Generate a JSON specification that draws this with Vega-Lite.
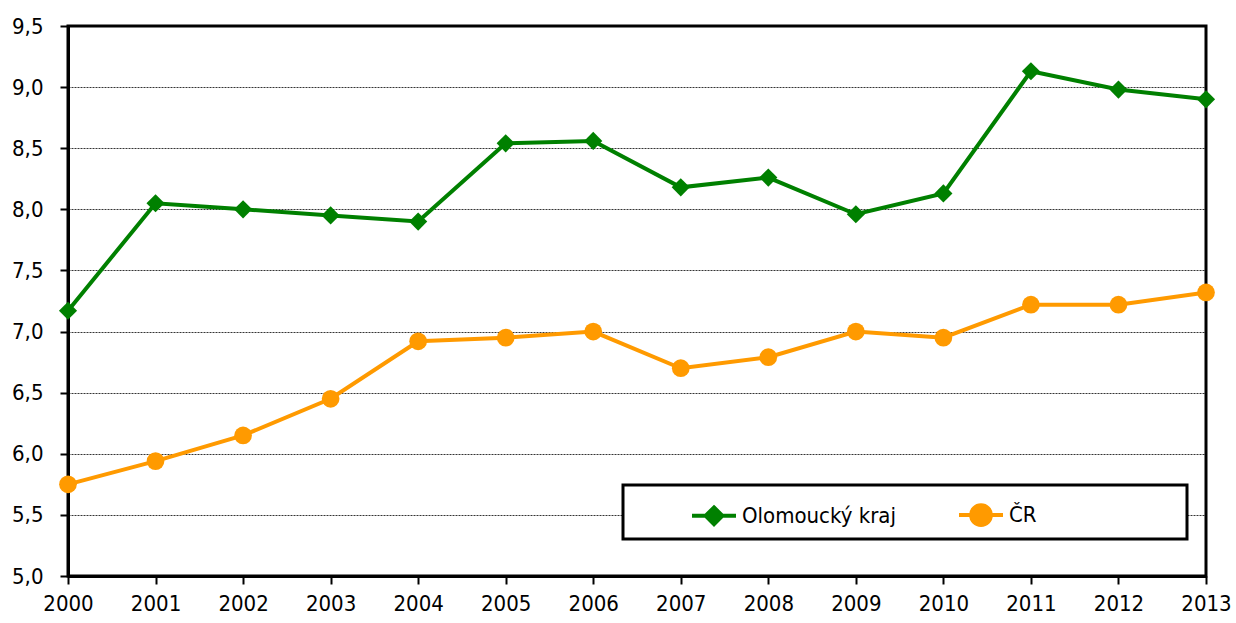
{
  "$schema": "https://vega.github.io/schema/vega-lite/v6.json",
  "width": 1138,
  "height": 550,
  "autosize": {"type": "none"},
  "padding": {"left": 68, "top": 26, "right": 30, "bottom": 47},
  "background": "white",
  "config": {
    "font": "DejaVu Sans Condensed, sans-serif",
    "view": {"stroke": "#000", "strokeWidth": 3},
    "axis": {
      "labelFont": "DejaVu Sans Condensed, sans-serif",
      "labelFontSize": 22,
      "labelColor": "#000",
      "domainColor": "#000",
      "domainWidth": 3,
      "tickColor": "#000",
      "tickWidth": 2,
      "tickSize": 8,
      "title": null
    }
  },
  "data": {
    "values": [
      {"year": 2000, "series": "Olomoucký kraj", "value": 7.17},
      {"year": 2001, "series": "Olomoucký kraj", "value": 8.05},
      {"year": 2002, "series": "Olomoucký kraj", "value": 8.0},
      {"year": 2003, "series": "Olomoucký kraj", "value": 7.95},
      {"year": 2004, "series": "Olomoucký kraj", "value": 7.9},
      {"year": 2005, "series": "Olomoucký kraj", "value": 8.54},
      {"year": 2006, "series": "Olomoucký kraj", "value": 8.56},
      {"year": 2007, "series": "Olomoucký kraj", "value": 8.18},
      {"year": 2008, "series": "Olomoucký kraj", "value": 8.26},
      {"year": 2009, "series": "Olomoucký kraj", "value": 7.96},
      {"year": 2010, "series": "Olomoucký kraj", "value": 8.13},
      {"year": 2011, "series": "Olomoucký kraj", "value": 9.13},
      {"year": 2012, "series": "Olomoucký kraj", "value": 8.98},
      {"year": 2013, "series": "Olomoucký kraj", "value": 8.9},
      {"year": 2000, "series": "ČR", "value": 5.75},
      {"year": 2001, "series": "ČR", "value": 5.94},
      {"year": 2002, "series": "ČR", "value": 6.15},
      {"year": 2003, "series": "ČR", "value": 6.45},
      {"year": 2004, "series": "ČR", "value": 6.92},
      {"year": 2005, "series": "ČR", "value": 6.95},
      {"year": 2006, "series": "ČR", "value": 7.0},
      {"year": 2007, "series": "ČR", "value": 6.7},
      {"year": 2008, "series": "ČR", "value": 6.79},
      {"year": 2009, "series": "ČR", "value": 7.0},
      {"year": 2010, "series": "ČR", "value": 6.95},
      {"year": 2011, "series": "ČR", "value": 7.22},
      {"year": 2012, "series": "ČR", "value": 7.22},
      {"year": 2013, "series": "ČR", "value": 7.32}
    ]
  },
  "encoding": {
    "x": {
      "field": "year",
      "type": "quantitative",
      "scale": {"domain": [2000, 2013], "nice": false, "zero": false},
      "axis": {
        "values": [2000, 2001, 2002, 2003, 2004, 2005, 2006, 2007, 2008, 2009, 2010, 2011, 2012, 2013],
        "format": "d",
        "grid": false,
        "labelPadding": 9,
        "labelFlush": false,
        "labelOverlap": false
      }
    },
    "y": {
      "field": "value",
      "type": "quantitative",
      "scale": {"domain": [5, 9.5], "nice": false, "zero": false},
      "axis": {
        "values": [5, 5.5, 6, 6.5, 7, 7.5, 8, 8.5, 9, 9.5],
        "labelExpr": "replace(format(datum.value, '.1f'), '.', ',')",
        "grid": true,
        "gridColor": "#000",
        "gridWidth": 0.8,
        "gridDash": [2, 1],
        "labelPadding": 17
      }
    }
  },
  "layer": [
    {
      "mark": {"type": "line", "strokeWidth": 4},
      "encoding": {
        "color": {
          "field": "series",
          "type": "nominal",
          "sort": ["Olomoucký kraj", "ČR"],
          "scale": {"domain": ["Olomoucký kraj", "ČR"], "range": ["#008000", "#FF9A00"]},
          "legend": {
            "title": " ",
            "titleOrient": "right",
            "titlePadding": 144,
            "orient": "none",
            "direction": "horizontal",
            "legendX": 555,
            "legendY": 459,
            "strokeColor": "#000",
            "fillColor": "#fff",
            "padding": 6,
            "symbolOffset": 61,
            "columnPadding": -15,
            "labelOffset": 4,
            "labelFontSize": 22,
            "labelColor": "#000",
            "labelFont": "DejaVu Sans Condensed, sans-serif",
            "symbolSize": 1936,
            "symbolStrokeWidth": 4,
            "encode": {
              "legend": {"update": {"strokeWidth": {"value": 3}}},
              "symbols": {
                "update": {
                  "shape": {"signal": "datum.value === 'ČR' ? 'M-1,0L1,0M-0.45,0A0.45,0.45 0 1,0 0.45,0A0.45,0.45 0 1,0 -0.45,0Z' : 'M-1,0L1,0M0,-0.38L0.38,0L0,0.38L-0.38,0Z'"},
                  "fill": {"signal": "scale('color', datum.value)"},
                  "stroke": {"signal": "scale('color', datum.value)"},
                  "strokeWidth": {"value": 4},
                  "opacity": {"value": 1},
                  "fillOpacity": {"value": 1}
                }
              }
            }
          }
        }
      }
    },
    {
      "transform": [{"filter": "datum.series === 'Olomoucký kraj'"}],
      "mark": {"type": "point", "shape": "diamond", "filled": true, "opacity": 1, "color": "#008000", "size": 330}
    },
    {
      "transform": [{"filter": "datum.series === 'ČR'"}],
      "mark": {"type": "point", "shape": "circle", "filled": true, "opacity": 1, "color": "#FF9A00", "size": 314}
    }
  ]
}
